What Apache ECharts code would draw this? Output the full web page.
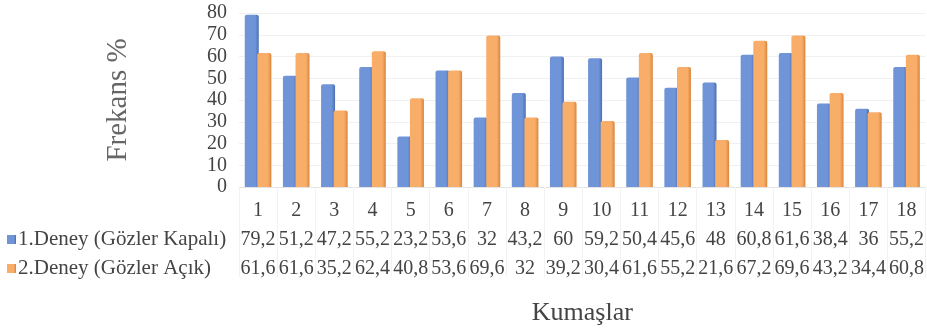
<!DOCTYPE html>
<html>
<head>
<meta charset="utf-8">
<script src="https://cdn.jsdelivr.net/npm/echarts@6/dist/echarts.min.js"></script>
<style>
  html, body { margin: 0; padding: 0; background: #fff; }
  #chart { width: 927px; height: 333px; }
</style>
</head>
<body>
<div id="chart"></div>
<script>
var kumaslar = ['1', '2', '3', '4', '5', '6', '7', '8', '9', '10', '11', '12', '13', '14', '15', '16', '17', '18'];
var deney1 = [79.2, 51.2, 47.2, 55.2, 23.2, 53.6, 32, 43.2, 60, 59.2, 50.4, 45.6, 48, 60.8, 61.6, 38.4, 36, 55.2];
var deney2 = [61.6, 61.6, 35.2, 62.4, 40.8, 53.6, 69.6, 32, 39.2, 30.4, 61.6, 55.2, 21.6, 67.2, 69.6, 43.2, 34.4, 60.8];
var seriesNames = ['1.Deney (Gözler Kapalı)', '2.Deney (Gözler Açık)'];

// virgullu gosterim
function fmt(v) {
    return String(v).replace('.', ',');
}

function barColor(light, dark) {
    return new echarts.graphic.LinearGradient(0, 0, 1, 0, [
        { offset: 0, color: light },
        { offset: 0.75, color: light },
        { offset: 1, color: dark }
    ]);
}

var myChart = echarts.init(document.getElementById('chart'));
var serif = '"Liberation Serif", "DejaVu Serif", serif';

var option = {
    animation: false,
    textStyle: { fontFamily: serif },
    grid: { left: 239, right: 0, top: 13, bottom: 146, containLabel: false },
    legend: {
        orient: 'vertical',
        left: 2,
        top: 224,
        itemGap: 8,
        itemWidth: 9,
        itemHeight: 9,
        icon: 'rect',
        textStyle: { fontFamily: serif, fontSize: 21, color: '#444', padding: [0, 0, 0, -3] },
        data: seriesNames
    },
    xAxis: {
        type: 'category',
        data: kumaslar,
        name: 'Kumaşlar',
        nameLocation: 'middle',
        nameGap: 113,
        nameTextStyle: { fontFamily: serif, fontSize: 26, color: '#444' },
        axisLine: { lineStyle: { color: '#e4e4e4' } },
        axisTick: { show: true, length: 90, lineStyle: { color: '#f2f2f2' } },
        axisLabel: {
            interval: 0,
            margin: 10,
            formatter: function (val, idx) {
                return '{c|' + val + '}\n{v|' + fmt(deney1[idx]) + '}\n{v|' + fmt(deney2[idx]) + '}';
            },
            rich: {
                c: { fontFamily: serif, fontSize: 20, color: '#444', lineHeight: 28 },
                v: { fontFamily: serif, fontSize: 20, color: '#444', lineHeight: 29 }
            }
        }
    },
    yAxis: {
        type: 'value',
        min: 0,
        max: 80,
        interval: 10,
        name: 'Frekans %',
        nameLocation: 'middle',
        nameGap: 106,
        nameRotate: 90,
        nameTextStyle: { fontFamily: serif, fontSize: 29, color: '#666' },
        axisLine: { show: false },
        axisTick: { show: false },
        axisLabel: { fontFamily: serif, fontSize: 20, color: '#444', margin: 12 },
        splitLine: { lineStyle: { color: '#f0f0f0' } }
    },
    series: [
        {
            name: seriesNames[0],
            type: 'bar',
            data: deney1,
            barWidth: 14,
            barGap: '-10%',
            itemStyle: { color: barColor('#6f94d8', '#4a6fb5'), borderRadius: [2, 2, 0, 0] }
        },
        {
            name: seriesNames[1],
            type: 'bar',
            data: deney2,
            barWidth: 14,
            itemStyle: { color: barColor('#f8ad68', '#d9853d'), borderRadius: [2, 2, 0, 0] }
        }
    ],
    color: ['#6f94d8', '#f8ad68']
};
myChart.setOption(option);
</script>
</body>
</html>
